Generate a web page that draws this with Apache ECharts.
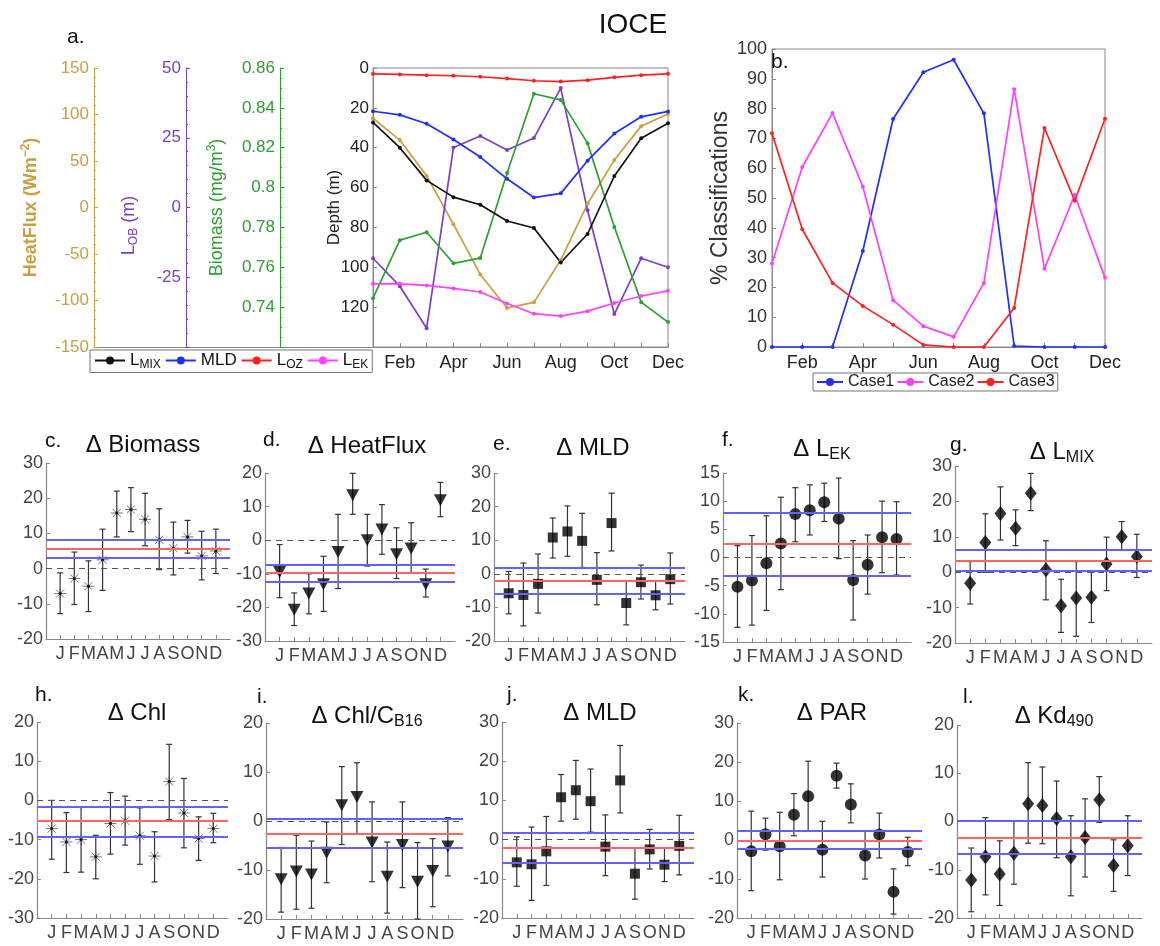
<!DOCTYPE html>
<html><head><meta charset="utf-8">
<script src="https://cdn.jsdelivr.net/npm/echarts@6/dist/echarts.min.js"></script>
<style>html,body{margin:0;padding:0;background:#fff}#c{width:1160px;height:946px}</style>
</head><body><div id="c"></div>
<script>
const FONT = '"Liberation Sans", Arial, sans-serif';
const monthNames = ['Jan','Feb','Mar','Apr','May','Jun','Jul','Aug','Sep','Oct','Nov','Dec'];
const monthLetters = ['J','F','M','A','M','J','J','A','S','O','N','D'];
const monthIdx = [1,2,3,4,5,6,7,8,9,10,11,12];

// ---- panel a ----
const depthLMIX = [27.3, 40, 56.4, 64.8, 68.6, 76.8, 80.3, 97.6, 83.3, 54.2, 35.2, 27.7];
const depthMLD  = [21.7, 23.5, 28, 35.9, 44.7, 55.6, 65, 62.9, 46.5, 32.9, 24.5, 21.8];
const depthLOZ  = [2.9, 3.2, 3.6, 3.9, 4.4, 5.3, 6.4, 6.8, 6.1, 4.7, 3.6, 2.9];
const depthLEK  = [108.3, 108.3, 109.1, 110.6, 112.4, 118.2, 123.3, 124.5, 122, 117.9, 114.4, 111.8];
const heatFlux  = [96, 72.5, 34, -18, -72, -108, -102, -56.5, 4, 51, 87.5, 100.5];
const lengthOB  = [-18.2, -28.2, -43.3, 21.5, 25.6, 20.6, 24.9, 42.8, -1, -38.2, -18.2, -21.4];
const biomass   = [0.7445, 0.7736, 0.7776, 0.762, 0.7646, 0.8073, 0.8471, 0.844, 0.8223, 0.7802, 0.7425, 0.7325];

// ---- panel b ----
const case1 = [0, 0, 0, 32.2, 76.5, 92.2, 96.4, 78.4, 0.3, 0, 0, 0];
const case2 = [28, 60.4, 78.5, 53.8, 15.7, 7, 3.4, 21.5, 86.5, 26.3, 51, 23.2];
const case3 = [71.7, 39.5, 21.5, 13.8, 7.5, 0.7, 0, 0, 13.1, 73.5, 49.1, 76.6];

// ---- panels c-l: mean, lower, upper, reference lines [blue upper, red, blue lower] ----
const bioMean = [-7.1, -2.8, -5.0, 2.5, 15.8, 16.8, 14.0, 8.2, 5.8, 9.0, 3.6, 5.0];
const bioLow  = [-12.8, -10.2, -12.2, -6.2, 9.0, 10.5, 6.5, -0.3, -1.8, 4.4, -3.2, -1.4];
const bioHigh = [-1.2, 4.7, 2.2, 11.2, 22.0, 23.0, 21.4, 17.0, 13.2, 13.7, 10.6, 11.2];
const bioRef  = [8.2, 5.7, 3.1];

const hfMean = [-9.5, -20.7, -15.9, -13.1, -3.5, 13.4, 0, 3.2, -4.2, -2.5, -13.1, 11.9];
const hfLow  = [-17.1, -25.4, -21.9, -21.2, -14.4, 7.7, -7.7, -4.2, -11.4, -9.8, -16.9, 7.0];
const hfHigh = [-1.3, -15.7, -10.0, -4.8, 7.7, 19.9, 7.7, 10.6, 3.7, 5.2, -8.6, 17.2];
const hfRef  = [-7.2, -9.8, -12.5];

const mldMean = [-5.8, -6.3, -3.0, 10.8, 12.6, 9.8, -1.8, 15.1, -8.7, -2.5, -6.4, -1.6];
const mldLow  = [-11.9, -15.5, -11.7, 4.7, 5.2, 1.9, -9.2, 6.8, -15.2, -7.5, -10.7, -9.0];
const mldHigh = [0.7, 3.2, 5.9, 16.6, 20.2, 18.0, 6.3, 24.0, -2.1, 2.6, -2.2, 6.2];
const mldRef  = [1.8, -2.1, -6.0];

const lekMean = [-5.2, -4.1, -1.0, 2.5, 7.7, 8.4, 9.8, 6.9, -4.0, -1.3, 3.6, 3.3];
const lekLow  = [-12.4, -12.0, -9.4, -5.7, 2.8, 4.0, 6.4, -0.2, -11.1, -6.5, -2.7, -3.1];
const lekHigh = [2.1, 3.9, 7.4, 10.7, 12.4, 12.9, 13.2, 14.1, 3.0, 4.0, 10.0, 9.9];
const lekRef  = [7.9, 2.4, -3.2];

const lmixMean = [-3.1, 8.4, 16.6, 12.4, 22.3, 0.7, -9.5, -7.3, -7.1, 2.3, 10.0, 4.4];
const lmixLow  = [-9.0, 0.0, 9.1, 7.5, 17.4, -7.8, -17.0, -18.1, -14.2, -5.2, 6.3, -1.5];
const lmixHigh = [3.0, 16.5, 24.1, 17.6, 27.9, 8.9, -2.0, 3.0, 0.0, 9.9, 14.3, 10.7];
const lmixRef  = [6.3, 3.3, 0.4];

const chlMean = [-7.2, -10.6, -10.0, -14.4, -5.9, -5.2, -9.0, -14.2, 4.8, -3.2, -9.7, -7.2];
const chlLow  = [-15.0, -18.4, -18.3, -20.0, -13.7, -11.4, -16.3, -20.8, -4.9, -12.1, -15.3, -10.8];
const chlHigh = [0.0, -3.1, -1.8, -8.9, 2.0, 1.1, -1.9, -8.0, 14.3, 5.6, -4.2, -3.3];
const chlRef  = [-1.6, -5.3, -9.2];

const chlcMean = [-11.9, -10.3, -10.9, -6.5, 3.2, 4.9, -4.4, -11.4, -4.9, -12.4, -10.2, -5.2];
const chlcLow  = [-18.6, -18.0, -17.8, -12.6, -4.8, -2.6, -12.4, -18.8, -13.6, -20.0, -17.5, -11.2];
const chlcHigh = [-5.4, -2.9, -4.1, -0.2, 11.1, 11.9, 3.9, -4.3, 3.9, -4.4, -3.6, 0.7];
const chlcRef  = [0.5, -2.5, -5.4];

const parMean = [-2.9, 1.5, -1.6, 6.5, 11.2, -2.5, 16.5, 9.1, -4.0, 1.4, -13.3, -3.1];
const parLow  = [-13.0, -2.6, -10.2, 1.1, 2.2, -9.5, 13.3, 4.4, -10.0, -4.6, -19.0, -6.6];
const parHigh = [7.4, 5.6, 7.1, 11.9, 20.2, 4.8, 19.7, 14.4, 2.2, 6.9, -7.4, 0.7];
const parRef  = [2.5, -0.1, -2.2];

const kdMean = [-12.1, -7.3, -10.9, -6.6, 3.7, 3.3, 0.6, -7.3, -3.3, 4.5, -9.1, -5.0];
const kdLow  = [-18.7, -15.2, -17.4, -13.0, -4.5, -4.6, -7.5, -15.4, -11.5, -0.2, -14.5, -11.2];
const kdHigh = [-5.5, 0.8, -4.0, 0.1, 12.2, 11.3, 8.4, 1.2, 4.7, 9.3, -3.8, 1.2];
const kdRef  = [0.1, -3.3, -6.6];

// ---- layout / style of the small panels ----
const ASTER = 'path://M5 0L5 10M0 5L10 5M1.6 1.6L8.4 8.4M8.4 1.6L1.6 8.4';
const panels = [
  {letter:'c.', title:'Δ Biomass', mean:bioMean, low:bioLow, high:bioHigh, ref:bioRef, y:[-20,30,10], sym:'aster', box:[46,230,463,639], tx:138, ty:428, lx:40, ly:426},
  {letter:'d.', title:'Δ HeatFlux', mean:hfMean, low:hfLow, high:hfHigh, ref:hfRef, y:[-30,20,10], sym:'tri', box:[265,455,473,641], tx:362, ty:429, lx:258, ly:425},
  {letter:'e.', title:'Δ MLD', mean:mldMean, low:mldLow, high:mldHigh, ref:mldRef, y:[-20,30,10], sym:'sq', box:[494,685,473,641], tx:588, ty:431, lx:488, ly:429},
  {letter:'f.', title:'Δ L{s|EK}', mean:lekMean, low:lekLow, high:lekHigh, ref:lekRef, y:[-15,15,5], sym:'circ', box:[723,911,473,642], tx:817, ty:431, lx:717, ly:425},
  {letter:'g.', title:'Δ L{s|MIX}', mean:lmixMean, low:lmixLow, high:lmixHigh, ref:lmixRef, y:[-20,30,10], sym:'dia', box:[955,1152,466,643], tx:1057, ty:434, lx:945, ly:430},
  {letter:'h.', title:'Δ Chl', mean:chlMean, low:chlLow, high:chlHigh, ref:chlRef, y:[-30,20,10], sym:'aster', box:[37,228,722,918], tx:132, ty:696, lx:30, ly:680},
  {letter:'i.', title:'Δ Chl/C{s|B16}', mean:chlcMean, low:chlcLow, high:chlcHigh, ref:chlcRef, y:[-20,20,10], sym:'tri', box:[266,463,723,919], tx:362, ty:698, lx:252, ly:682},
  {letter:'j.', title:'Δ MLD', mean:mldMean, low:mldLow, high:mldHigh, ref:mldRef, y:[-20,30,10], sym:'sq', box:[502,694,722,918], tx:595, ty:696, lx:502, ly:680},
  {letter:'k.', title:'Δ PAR', mean:parMean, low:parLow, high:parHigh, ref:parRef, y:[-20,30,10], sym:'circ', box:[737,922,723,918], tx:827, ty:696, lx:733, ly:680},
  {letter:'l.', title:'Δ Kd{s|490}', mean:kdMean, low:kdLow, high:kdHigh, ref:kdRef, y:[-20,20,10], sym:'dia', box:[957,1142,725,918], tx:1049, ty:698, lx:958, ly:682}
];

const C = {gold:'#C9A03F', purple:'#7B3FC6', green:'#2FA02F', black:'#111', blue:'#1F2FFF', red:'#FF2020', mag:'#FF40FF', axis:'#888', tick:'#444'};
const subRich = {s:{fontSize:16, padding:[11,0,0,0], color:'#111', fontFamily:FONT}};

const grids = [], xAxes = [], yAxes = [], series = [], titles = [];

// ---- panel a / b grids ----
grids.push({left:373, top:68, width:295, height:279, show:true, borderColor:'#888', borderWidth:1, backgroundColor:'rgba(0,0,0,0)'});
grids.push({left:94, top:346, width:279, height:1});
grids.push({left:772, top:49, width:333, height:298, show:true, borderColor:'#888', borderWidth:1, backgroundColor:'rgba(0,0,0,0)'});

const catAxis = (gi) => ({gridIndex:gi, type:'category', data:monthNames, boundaryGap:false,
  axisLine:{show:true, onZero:false, lineStyle:{color:C.axis}},
  axisTick:{show:true, inside:true, interval:0, length:4, lineStyle:{color:C.axis}},
  axisLabel:{interval:(i)=>i%2===1, color:'#222', fontSize:18, margin:7, fontFamily:FONT},
  splitLine:{show:false}});
xAxes.push(catAxis(0));
xAxes.push({gridIndex:1, type:'value', min:0, max:1, axisLine:{show:true, onZero:false, lineStyle:{color:C.axis}}, axisTick:{show:false}, axisLabel:{show:false}, splitLine:{show:false}});
xAxes.push(catAxis(2));

const sideAxis = (color, min, max, interval, offset, name, nameGap, extra) => Object.assign({
  gridIndex:0, type:'value', position:'left', offset, min, max, interval,
  name, nameLocation:'middle', nameGap, nameRotate:90, nameMoveOverlap:false,
  nameTextStyle:{color, fontSize:17, fontFamily:FONT},
  axisLine:{show:true, onZero:false, lineStyle:{color, width:1}},
  axisTick:{show:true, inside:true, length:4, lineStyle:{color}},
  minorTick:{show:true, splitNumber:5, length:2, lineStyle:{color}},
  axisLabel:{color, fontSize:17, margin:5, fontFamily:FONT},
  splitLine:{show:false}
}, extra || {});

yAxes.push(sideAxis('#222', 0, 140, 20, 0, 'Depth (m)', 30, {inverse:true,
  nameTextStyle:{color:'#222', fontSize:17, fontFamily:FONT},
  axisLine:{show:true, onZero:false, lineStyle:{color:C.axis}}, axisTick:{show:true, inside:true, length:4, lineStyle:{color:C.axis}},
  minorTick:{show:false}, axisLabel:{color:'#222', fontSize:17, margin:4, fontFamily:FONT, showMaxLabel:false}}));
yAxes.push(sideAxis(C.gold, -150, 150, 50, 279, 'HeatFlux (Wm{p|−2})', 52, {
  nameTextStyle:{color:C.gold, fontSize:18, fontWeight:'bold', fontFamily:FONT, rich:{p:{fontSize:12, fontWeight:'bold', color:C.gold, padding:[0,0,10,0]}}}}));
yAxes.push(sideAxis(C.purple, -50, 50, 25, 187, 'L{s|OB} (m)', 46, {
  nameTextStyle:{color:C.purple, fontSize:18, fontFamily:FONT, padding:[0,36,0,0], rich:{s:{fontSize:12, color:C.purple, padding:[10,0,0,0]}}},
  axisLabel:{color:C.purple, fontSize:17, margin:5, fontFamily:FONT, showMinLabel:false}}));
yAxes.push(sideAxis(C.green, 0.72, 0.86, 0.02, 93, 'Biomass (mg/m{p|3})', 52, {
  nameTextStyle:{color:C.green, fontSize:18, fontFamily:FONT, rich:{p:{fontSize:12, color:C.green, padding:[0,0,10,0]}}},
  minorTick:{show:true, splitNumber:4, length:2, lineStyle:{color:C.green}},
  axisLabel:{color:C.green, fontSize:17, margin:5, fontFamily:FONT, showMinLabel:false, formatter:(v)=>String(parseFloat(v.toFixed(2)))}}));
yAxes.push({gridIndex:1, type:'value', show:false, min:0, max:1});
yAxes.push({gridIndex:2, type:'value', min:0, max:100, interval:10,
  name:'% Classifications', nameLocation:'middle', nameGap:40, nameMoveOverlap:false, nameTextStyle:{color:'#333', fontSize:23, fontFamily:FONT},
  axisLine:{show:true, onZero:false, lineStyle:{color:C.axis}}, axisTick:{show:true, inside:true, length:4, lineStyle:{color:C.axis}},
  axisLabel:{color:'#333', fontSize:18, margin:5, fontFamily:FONT}, splitLine:{show:false}});

const lineS = (name, data, color, yi, xi) => ({name, type:'line', data, xAxisIndex:xi||0, yAxisIndex:yi, symbol:'circle', symbolSize:4,
  lineStyle:{color, width:1.7}, itemStyle:{color}, z:3, silent:true});
series.push(lineS('HeatFlux', heatFlux, C.gold, 1));
series.push(lineS('LOB', lengthOB, C.purple, 2));
series.push(lineS('Biomass', biomass, C.green, 3));
series.push(lineS('LMIX', depthLMIX, C.black, 0));
series.push(lineS('MLD', depthMLD, C.blue, 0));
series.push(lineS('LOZ', depthLOZ, C.red, 0));
series.push(lineS('LEK', depthLEK, C.mag, 0));
series.push(lineS('Case1', case1, C.blue, 5, 2));
series.push(lineS('Case2', case2, C.mag, 5, 2));
series.push(lineS('Case3', case3, C.red, 5, 2));

// ---- small panels ----
function errRender(params, api) {
  const x = api.value(0), lo = api.value(1), hi = api.value(2);
  const p1 = api.coord([x, hi]), p2 = api.coord([x, lo]);
  const w = 3, style = {stroke:'#333', lineWidth:1.2};
  return {type:'group', children:[
    {type:'line', shape:{x1:p1[0], y1:p1[1], x2:p2[0], y2:p2[1]}, style},
    {type:'line', shape:{x1:p1[0]-w, y1:p1[1], x2:p1[0]+w, y2:p1[1]}, style},
    {type:'line', shape:{x1:p2[0]-w, y1:p2[1], x2:p2[0]+w, y2:p2[1]}, style}
  ]};
}
const symStyle = {
  aster:{symbol:ASTER, symbolSize:12, itemStyle:{color:'rgba(0,0,0,0)', borderColor:'#555', borderWidth:1}},
  tri:{symbol:'triangle', symbolSize:[13,12], symbolRotate:180, itemStyle:{color:'#000'}},
  sq:{symbol:'rect', symbolSize:10, itemStyle:{color:'#000'}},
  circ:{symbol:'circle', symbolSize:12, itemStyle:{color:'#000'}},
  dia:{symbol:'diamond', symbolSize:[12,15], itemStyle:{color:'#000'}}
};

panels.forEach((p, i) => {
  const gi = 3 + i, xi = 3 + i, yi = 6 + i;
  grids.push({left:p.box[0], top:p.box[2], width:p.box[1]-p.box[0], height:p.box[3]-p.box[2]});
  xAxes.push({gridIndex:gi, type:'value', min:0, max:13,
    axisLine:{show:true, onZero:false, lineStyle:{color:C.axis, width:1.2}},
    axisTick:{show:true, inside:true, length:4, customValues:monthIdx, lineStyle:{color:C.axis}},
    axisLabel:{customValues:monthIdx, formatter:(v)=>monthLetters[v-1] || '', color:C.tick, fontSize:18, margin:6, fontFamily:FONT},
    splitLine:{show:false}});
  yAxes.push({gridIndex:gi, type:'value', min:p.y[0], max:p.y[1], interval:p.y[2],
    axisLine:{show:true, onZero:false, lineStyle:{color:C.axis, width:1.2}},
    axisTick:{show:true, inside:true, length:4, lineStyle:{color:C.axis}},
    axisLabel:{color:C.tick, fontSize:18, margin:3, fontFamily:FONT},
    splitLine:{show:false}});
  const pts = monthIdx.map((m, k) => [m, p.mean[k]]);
  series.push({type:'scatter', xAxisIndex:xi, yAxisIndex:yi, data:pts, symbol:'none', silent:true, z:1,
    markLine:{silent:true, symbol:['none','none'], label:{show:false}, animation:false,
      data:[
        {yAxis:0, lineStyle:{color:'#555', type:[6,5], width:1.2}},
        {yAxis:p.ref[0], lineStyle:{color:'#6262FF', type:'solid', width:1.8}},
        {yAxis:p.ref[1], lineStyle:{color:'#FF6464', type:'solid', width:1.8}},
        {yAxis:p.ref[2], lineStyle:{color:'#6262FF', type:'solid', width:1.8}}
      ]}});
  series.push({type:'custom', xAxisIndex:xi, yAxisIndex:yi, renderItem:errRender, encode:{x:0, y:[1,2]},
    data:monthIdx.map((m, k) => [m, p.low[k], p.high[k]]), z:2, silent:true});
  series.push(Object.assign({type:'scatter', xAxisIndex:xi, yAxisIndex:yi, data:pts, z:3, silent:true}, symStyle[p.sym]));
  if (p.sym === 'aster') series.push({type:'scatter', xAxisIndex:xi, yAxisIndex:yi, data:pts, symbol:'circle', symbolSize:3, itemStyle:{color:'#000'}, z:4, silent:true});
  titles.push({text:p.title, left:p.tx, top:p.ty, textAlign:'center', textStyle:{fontSize:24, fontWeight:'normal', color:'#111', fontFamily:FONT, rich:subRich}});
  titles.push({text:p.letter, left:p.lx, top:p.ly, textAlign:'left', textStyle:{fontSize:21, fontWeight:'normal', color:'#111', fontFamily:FONT}});
});

titles.push({text:'IOCE', left:628, top:6, textAlign:'center', textStyle:{fontSize:28, fontWeight:'normal', color:'#111', fontFamily:FONT}});
titles.push({text:'a.', left:62, top:22, textStyle:{fontSize:21, fontWeight:'normal', color:'#111', fontFamily:FONT}});
titles.push({text:'b.', left:766, top:47, textStyle:{fontSize:21, fontWeight:'normal', color:'#111', fontFamily:FONT}});

const legendNames = {LMIX:'L{s|MIX}', MLD:'MLD', LOZ:'L{s|OZ}', LEK:'L{s|EK}'};
const legends = [
  {left:90, top:350, data:['LMIX','MLD','LOZ','LEK'], selectedMode:false, itemWidth:30, itemHeight:10, itemGap:4,
   padding:[2,4,2,4], borderColor:'#777', borderWidth:1, backgroundColor:'#fff',
   formatter:(n)=>legendNames[n], textStyle:{fontSize:17, color:'#111', fontFamily:FONT, rich:{s:{fontSize:12, padding:[8,0,0,0], color:'#111'}}}},
  {left:813, top:373, data:['Case1','Case2','Case3'], selectedMode:false, itemWidth:26, itemHeight:10, itemGap:2,
   padding:[1,3,1,3], borderColor:'#777', borderWidth:1, backgroundColor:'#fff',
   textStyle:{fontSize:16, color:'#222', fontFamily:FONT}}
];

const chart = echarts.init(document.getElementById('c'), null, {renderer:'canvas'});
chart.setOption({animation:false, backgroundColor:'#fff', textStyle:{fontFamily:FONT},
  title:titles, legend:legends, grid:grids, xAxis:xAxes, yAxis:yAxes, series});
</script></body></html>
